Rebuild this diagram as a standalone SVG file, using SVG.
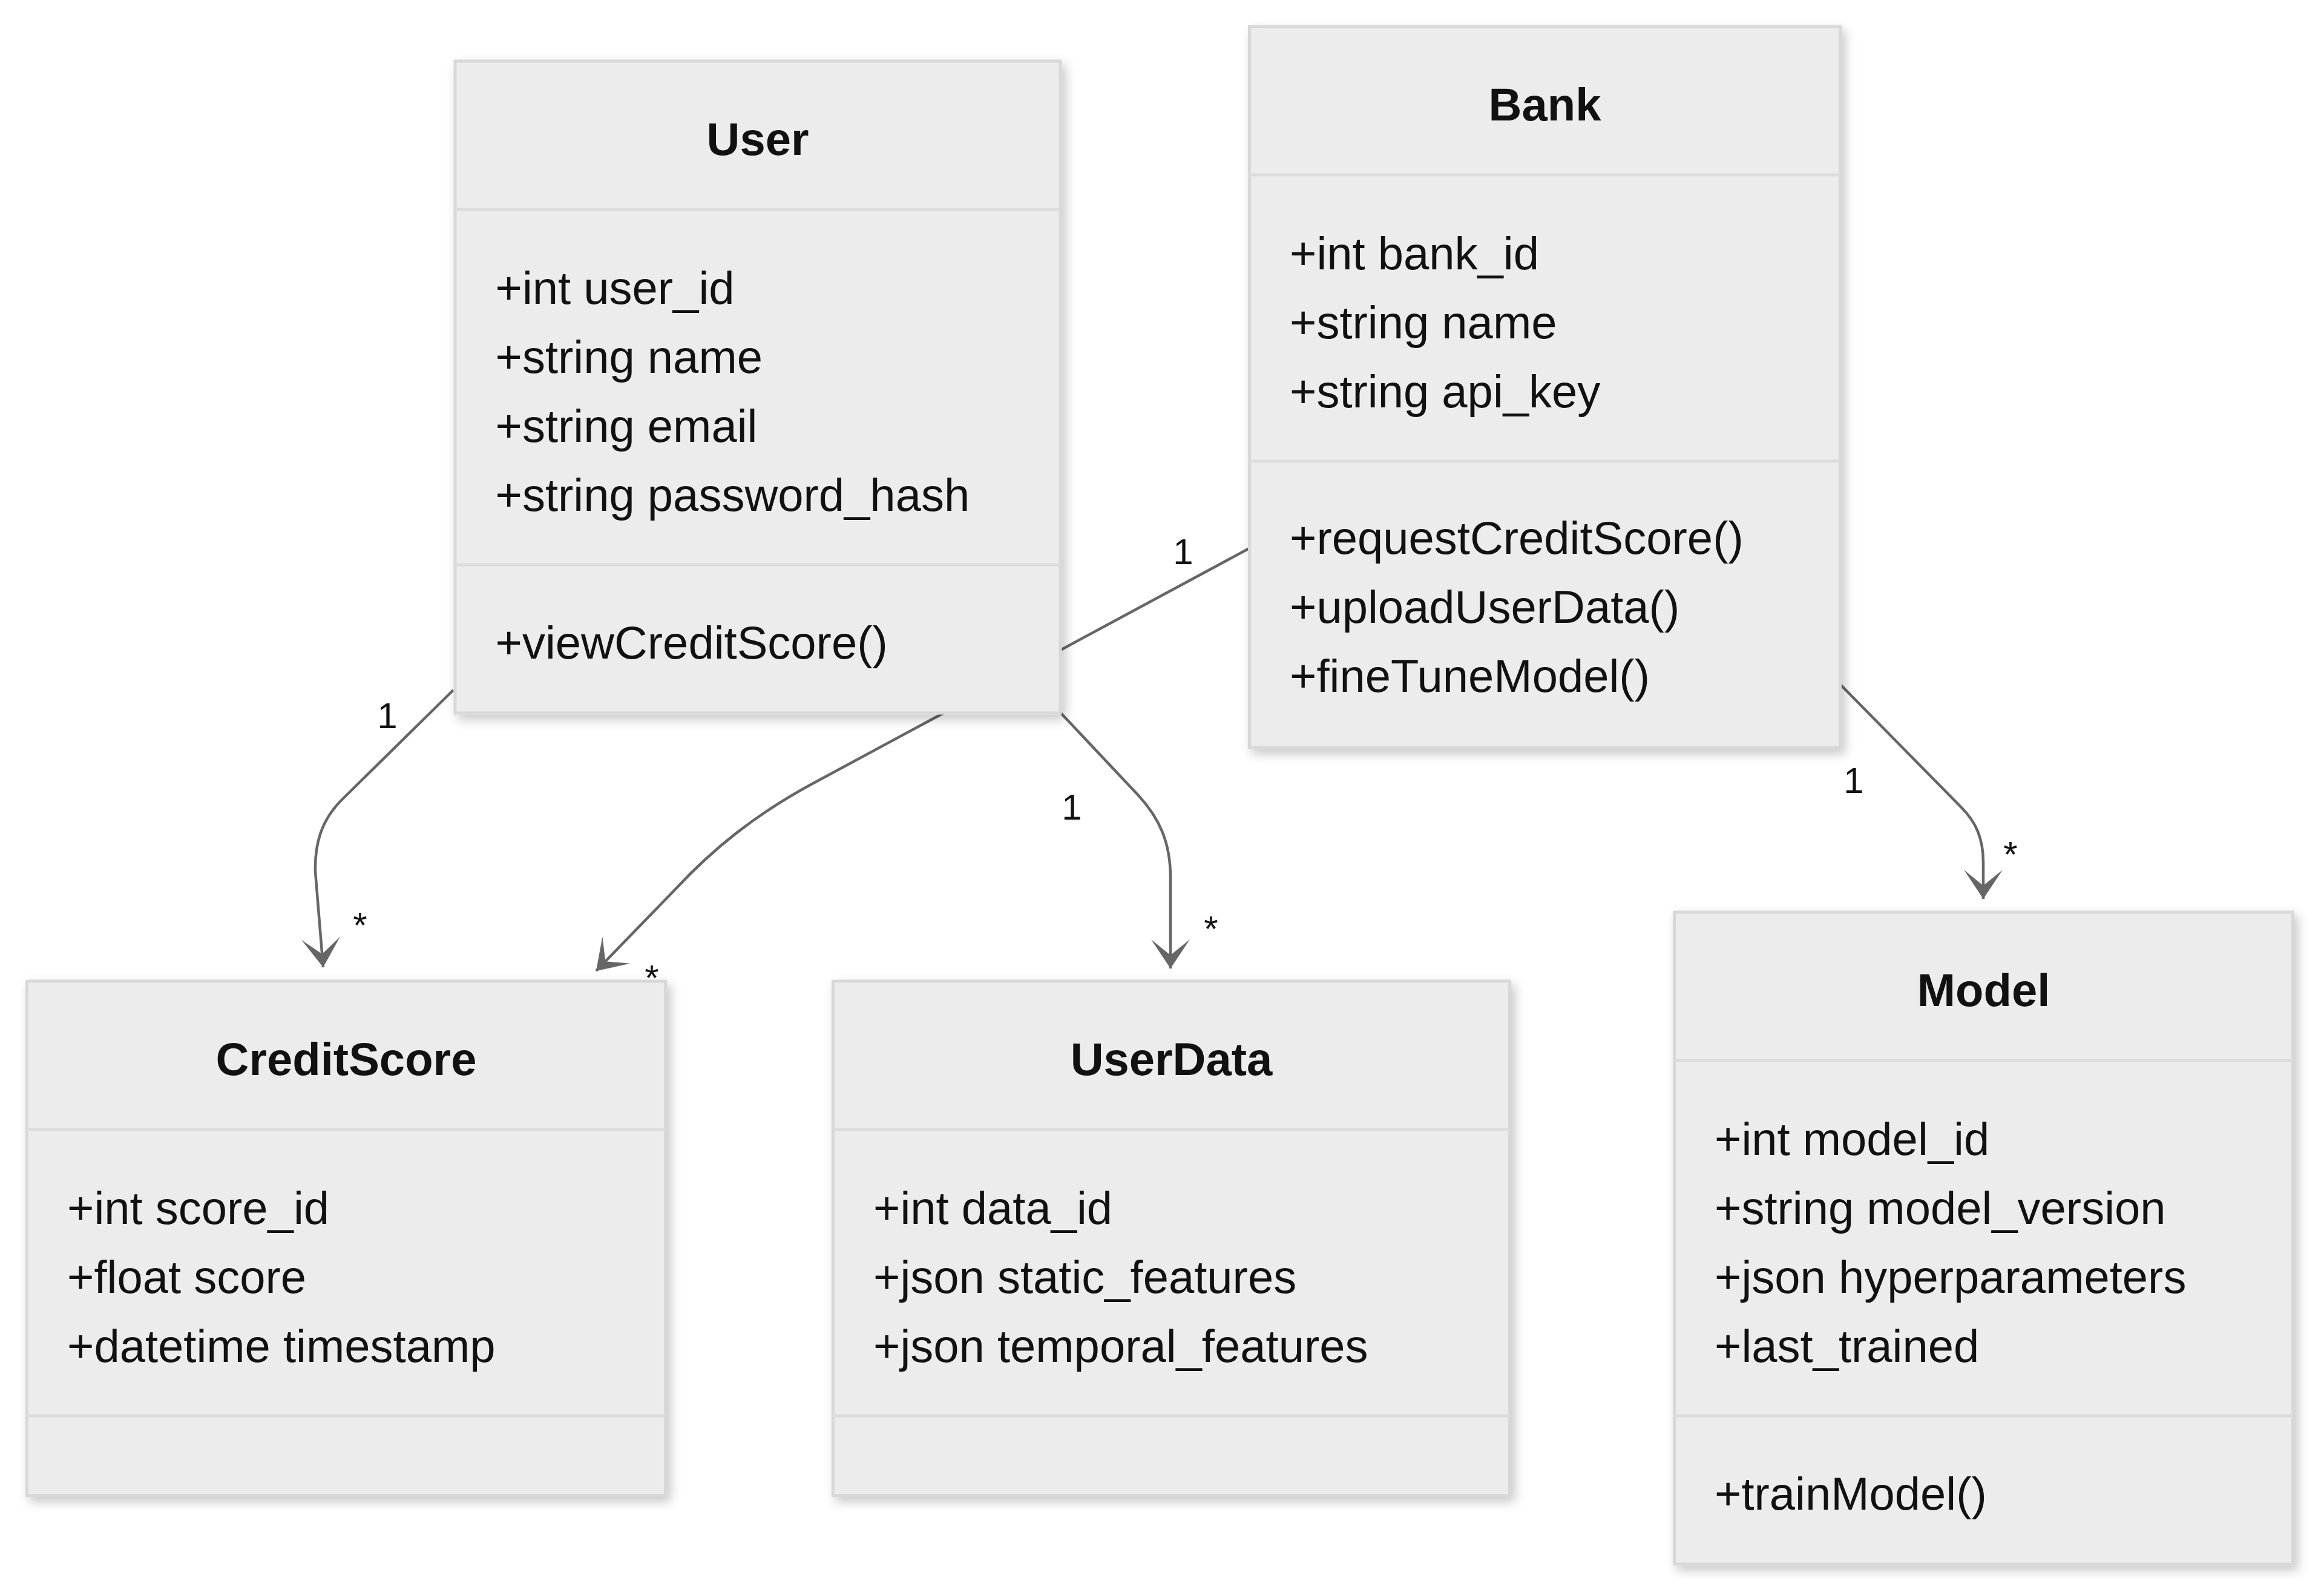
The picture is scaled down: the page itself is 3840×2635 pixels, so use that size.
<svg xmlns="http://www.w3.org/2000/svg" width="3840" height="2635" viewBox="0 0 3840 2635">
<style>
.box{fill:#ececec;stroke:#d8d8d8;stroke-width:5}
.div{stroke:#dcdcdc;stroke-width:5}
.title{font-family:"Liberation Sans",Arial,sans-serif;font-size:76px;font-weight:bold;fill:#111;text-anchor:middle}
.mem{font-family:"Liberation Sans",Arial,sans-serif;font-size:76px;fill:#111}
.edge{fill:none;stroke:#666;stroke-width:4.5}
.card{font-family:"Liberation Sans",Arial,sans-serif;font-size:60px;fill:#111;text-anchor:middle}
</style>
<defs>
<filter id="shadow" x="-10%" y="-10%" width="125%" height="125%">
<feDropShadow dx="6" dy="8" stdDeviation="9" flood-color="#000" flood-opacity="0.22"/>
</filter>
<marker id="arr" markerUnits="userSpaceOnUse" viewBox="-55 -40 60 80" refX="0" refY="0" markerWidth="60" markerHeight="80" orient="auto">
<path d="M0,0 L-48,-32 L-22,0 L-48,32 Z" fill="#666"/>
</marker>
</defs>
<rect width="3840" height="2635" fill="#fff"/>
<g id="connectors">
<path class="edge" d="M749,1140 L565,1321 C530,1356 520,1395 521,1440 L534,1598" marker-end="url(#arr)"/>
<path class="edge" d="M2064,906 L1340,1296 C1250,1345 1180,1400 1115,1470 L985,1604" marker-end="url(#arr)"/>
<path class="edge" d="M1752,1177 L1881,1314 C1916,1352 1934,1392 1934,1450 L1934,1600" marker-end="url(#arr)"/>
<path class="edge" d="M3041,1131 L3240,1333 C3265,1358 3277,1385 3277,1425 L3277,1485" marker-end="url(#arr)"/>
</g>
<g id="User">
<rect class="box" x="752" y="101" width="1000" height="1077" filter="url(#shadow)"/>
<line class="div" x1="752" y1="346" x2="1752" y2="346"/>
<line class="div" x1="752" y1="933" x2="1752" y2="933"/>
<text class="title" x="1252" y="256">User</text>
<text class="mem" x="818.5" y="502">+int user_id</text>
<text class="mem" x="818.5" y="616">+string name</text>
<text class="mem" x="818.5" y="730">+string email</text>
<text class="mem" x="818.5" y="844">+string password_hash</text>
<text class="mem" x="818.5" y="1088">+viewCreditScore()</text>
</g>
<g id="Bank">
<rect class="box" x="2064.5" y="44" width="976" height="1191" filter="url(#shadow)"/>
<line class="div" x1="2064.5" y1="289" x2="3040.5" y2="289"/>
<line class="div" x1="2064.5" y1="762" x2="3040.5" y2="762"/>
<text class="title" x="2552.5" y="199">Bank</text>
<text class="mem" x="2131" y="445">+int bank_id</text>
<text class="mem" x="2131" y="559">+string name</text>
<text class="mem" x="2131" y="673">+string api_key</text>
<text class="mem" x="2131" y="915">+requestCreditScore()</text>
<text class="mem" x="2131" y="1029">+uploadUserData()</text>
<text class="mem" x="2131" y="1143">+fineTuneModel()</text>
</g>
<g id="CreditScore">
<rect class="box" x="44.5" y="1621" width="1055" height="849.5" filter="url(#shadow)"/>
<line class="div" x1="44.5" y1="1866" x2="1099.5" y2="1866"/>
<line class="div" x1="44.5" y1="2339" x2="1099.5" y2="2339"/>
<text class="title" x="572" y="1776">CreditScore</text>
<text class="mem" x="111" y="2022">+int score_id</text>
<text class="mem" x="111" y="2136">+float score</text>
<text class="mem" x="111" y="2250">+datetime timestamp</text>
</g>
<g id="UserData">
<rect class="box" x="1376.5" y="1621" width="1118" height="849.5" filter="url(#shadow)"/>
<line class="div" x1="1376.5" y1="1866" x2="2494.5" y2="1866"/>
<line class="div" x1="1376.5" y1="2339" x2="2494.5" y2="2339"/>
<text class="title" x="1935.5" y="1776">UserData</text>
<text class="mem" x="1443" y="2022">+int data_id</text>
<text class="mem" x="1443" y="2136">+json static_features</text>
<text class="mem" x="1443" y="2250">+json temporal_features</text>
</g>
<g id="Model">
<rect class="box" x="2766.5" y="1507" width="1022" height="1077" filter="url(#shadow)"/>
<line class="div" x1="2766.5" y1="1752" x2="3788.5" y2="1752"/>
<line class="div" x1="2766.5" y1="2339" x2="3788.5" y2="2339"/>
<text class="title" x="3277.5" y="1662">Model</text>
<text class="mem" x="2833" y="1908">+int model_id</text>
<text class="mem" x="2833" y="2022">+string model_version</text>
<text class="mem" x="2833" y="2136">+json hyperparameters</text>
<text class="mem" x="2833" y="2250">+last_trained</text>
<text class="mem" x="2833" y="2494">+trainModel()</text>
</g>
<g id="labels">
<text class="card" x="640" y="1203">1</text>
<text class="card" x="595" y="1549">*</text>
<text class="card" x="1955" y="932">1</text>
<text class="card" x="1077" y="1636">*</text>
<text class="card" x="1771" y="1354">1</text>
<text class="card" x="2001" y="1555">*</text>
<text class="card" x="3063" y="1310">1</text>
<text class="card" x="3322" y="1432">*</text>
</g>
</svg>
